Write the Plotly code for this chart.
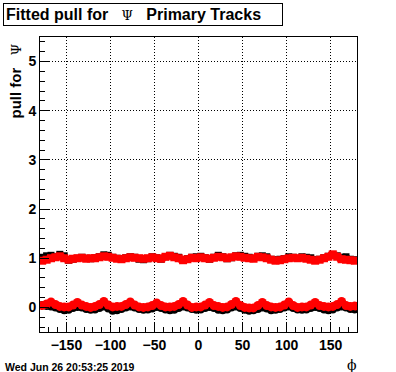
import plotly.graph_objects as go

phi = [-177.5, -172.5, -167.5, -162.5, -157.5, -152.5, -147.5, -142.5, -137.5, -132.5, -127.5, -122.5,
       -117.5, -112.5, -107.5, -102.5, -97.5, -92.5, -87.5, -82.5, -77.5, -72.5, -67.5, -62.5,
       -57.5, -52.5, -47.5, -42.5, -37.5, -32.5, -27.5, -22.5, -17.5, -12.5, -7.5, -2.5,
       2.5, 7.5, 12.5, 17.5, 22.5, 27.5, 32.5, 37.5, 42.5, 47.5, 52.5, 57.5,
       62.5, 67.5, 72.5, 77.5, 82.5, 87.5, 92.5, 97.5, 102.5, 107.5, 112.5, 117.5,
       122.5, 127.5, 132.5, 137.5, 142.5, 147.5, 152.5, 157.5, 162.5, 167.5, 172.5, 177.5]

sigma_black = [1.02, 1.05, 1.06, 1.03, 1.08, 1.05, 0.96, 0.98, 1.00, 1.02, 1.00, 0.99,
               1.01, 1.03, 1.07, 1.06, 1.02, 1.00, 0.99, 1.01, 1.03, 1.02, 0.98, 0.97,
               0.99, 1.03, 1.01, 0.98, 1.03, 1.06, 1.04, 1.02, 0.97, 0.99, 1.02, 1.03,
               1.04, 1.01, 0.98, 1.02, 1.06, 1.03, 0.99, 1.01, 1.05, 1.06, 1.04, 1.02,
               1.00, 1.04, 1.05, 1.03, 0.98, 0.97, 0.98, 0.99, 1.03, 1.02, 1.00, 1.03,
               1.02, 1.01, 0.97, 0.98, 1.01, 1.04, 1.06, 1.05, 1.02, 1.03, 0.98, 0.97]

sigma_red = [0.95, 0.97, 1.00, 1.02, 1.04, 1.00, 0.97, 0.99, 1.00, 1.01, 0.99, 1.00,
             1.00, 1.02, 1.04, 1.03, 1.01, 0.99, 0.98, 1.00, 1.02, 1.01, 1.00, 0.99,
             1.00, 1.02, 1.00, 0.99, 1.03, 1.05, 1.02, 1.00, 0.96, 0.98, 1.01, 1.00,
             1.02, 1.00, 0.99, 1.01, 1.03, 1.02, 1.00, 1.02, 1.04, 1.03, 1.01, 1.00,
             0.99, 1.03, 1.02, 1.00, 0.97, 0.95, 0.96, 0.98, 1.00, 1.01, 1.00, 1.01,
             0.99, 0.97, 0.95, 0.97, 1.00, 1.03, 1.08, 1.03, 0.98, 0.97, 0.96, 0.95]

mean_black = [0.05, 0.03, 0.02, 0.00, -0.03, -0.06,
              -0.05, -0.01, 0.01, 0.00, -0.03, -0.05,
              -0.04, -0.01, 0.02, -0.02, -0.07, -0.06,
              -0.03, 0.00, 0.02, 0.00, -0.03, -0.05,
              -0.04, -0.02, 0.01, -0.01, -0.04, -0.06,
              -0.05, -0.01, 0.02, 0.00, -0.03, -0.05,
              -0.04, -0.01, 0.01, -0.01, -0.05, -0.06,
              -0.04, 0.00, 0.02, -0.01, -0.05, -0.07,
              -0.06, -0.03, 0.00, -0.02, -0.06, -0.05,
              -0.03, 0.00, 0.02, -0.01, -0.04, -0.05,
              -0.04, -0.01, 0.01, -0.01, -0.04, -0.06,
              -0.04, 0.00, 0.02, 0.00, -0.03, -0.04]

mean_red = [0.04, 0.07, 0.11, 0.06, 0.02, 0.01,
            0.01, 0.05, 0.10, 0.05, 0.02, 0.00,
            0.02, 0.06, 0.12, 0.05, 0.01, 0.02,
            0.02, 0.06, 0.11, 0.05, 0.01, 0.00,
            0.01, 0.04, 0.09, 0.04, 0.01, 0.01,
            0.02, 0.06, 0.12, 0.05, 0.00, 0.01,
            0.01, 0.05, 0.10, 0.04, 0.02, 0.00,
            0.01, 0.06, 0.12, 0.04, 0.00, -0.01,
            -0.01, 0.04, 0.10, 0.04, 0.01, 0.00,
            0.01, 0.05, 0.11, 0.04, 0.00, 0.01,
            0.01, 0.05, 0.10, 0.04, 0.02, 0.01,
            0.02, 0.06, 0.12, 0.04, 0.02, 0.03]

x_ticks = [-150, -100, -50, 0, 50, 100, 150]
y_ticks = [0, 1, 2, 3, 4, 5]

fig = go.Figure()
fig.add_trace(go.Scatter(x=phi, y=sigma_black, mode="lines+markers",
                         line=dict(color="black", width=3, shape="hvh"),
                         marker=dict(symbol="square", size=7, color="black")))
fig.add_trace(go.Scatter(x=phi, y=mean_black, mode="lines+markers",
                         line=dict(color="black", width=3, shape="spline"),
                         marker=dict(symbol="circle", size=8, color="black")))
fig.add_trace(go.Scatter(x=phi, y=sigma_red, mode="lines+markers",
                         line=dict(color="red", width=5, shape="hvh"),
                         marker=dict(symbol="square", size=8, color="red")))
fig.add_trace(go.Scatter(x=phi, y=mean_red, mode="lines+markers",
                         line=dict(color="red", width=6, shape="spline"),
                         marker=dict(symbol="circle", size=9, color="red")))

axis_font = dict(family="Liberation Sans, Arial, sans-serif", size=14, color="black", weight="bold")

fig.update_layout(
    width=396, height=372,
    margin=dict(l=40, r=39, t=37, b=40),
    paper_bgcolor="white", plot_bgcolor="white",
    showlegend=False,
    font=dict(family="Liberation Sans, Arial, sans-serif", color="black"),
    xaxis=dict(range=[-180, 180], tickvals=x_ticks, ticks="inside", ticklen=9,
               tickcolor="black", showline=True, linecolor="black", linewidth=1,
               mirror=True, showgrid=True, gridcolor="black", griddash="1px,2px", gridwidth=1,
               zeroline=False, tickfont=axis_font,
               minor=dict(dtick=10, ticks="inside", ticklen=5, tickcolor="black", showgrid=False)),
    yaxis=dict(range=[-0.5, 5.5], tickvals=y_ticks, ticks="inside", ticklen=9,
               tickcolor="black", showline=True, linecolor="black", linewidth=1,
               mirror=True, showgrid=True, gridcolor="black", griddash="1px,2px", gridwidth=1,
               zeroline=False, tickfont=axis_font,
               minor=dict(dtick=0.2, ticks="inside", ticklen=5, tickcolor="black", showgrid=False)),
)

fig.add_annotation(
    xref="paper", yref="paper", x=-0.117, y=1.115, xanchor="left", yanchor="top",
    text="<b>Fitted pull for</b>   <span style='font-family:DejaVu Serif;font-size:13px'>Ψ</span>   <b>Primary Tracks</b>",
    showarrow=False, font=dict(size=16, color="black", family="Liberation Sans, Arial, sans-serif"),
    bordercolor="black", borderwidth=1, bgcolor="white", borderpad=2, width=274, align="left",
)
fig.add_annotation(
    xref="paper", yref="paper", x=-0.077, y=0.985, xanchor="center", yanchor="top",
    text="<b>pull for</b>   <span style='font-family:DejaVu Serif;font-size:13px'>Ψ</span>",
    textangle=-90, showarrow=False, font=dict(size=15, color="black"),
)
fig.add_annotation(
    xref="paper", yref="paper", x=0.985, y=-0.077, xanchor="center", yanchor="top",
    text="ϕ", showarrow=False,
    font=dict(size=14, color="black", family="DejaVu Serif, serif"),
)
fig.add_annotation(
    xref="paper", yref="paper", x=-0.117, y=-0.09, xanchor="left", yanchor="top",
    text="<b>Wed Jun 26 20:53:25 2019</b>", showarrow=False,
    font=dict(size=10.5, color="black"),
)

fig.write_html("out.html", config={"displayModeBar": False},
               post_script="document.body.style.margin='0';document.body.style.overflow='hidden';")
